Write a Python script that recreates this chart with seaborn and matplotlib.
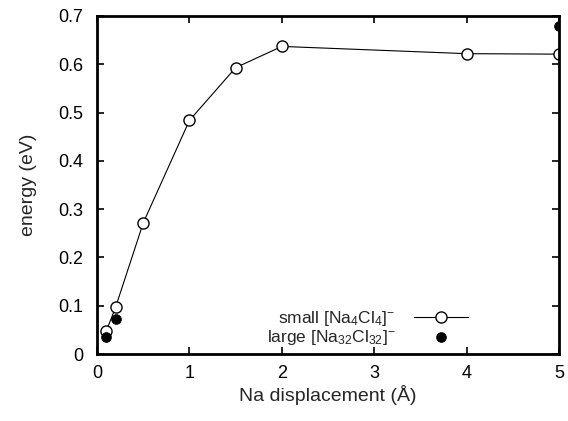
import matplotlib
matplotlib.use("Agg")
import matplotlib.pyplot as plt
import pandas as pd
import seaborn as sns

# small cluster [Na4Cl4]-
small_x = [0.1, 0.2, 0.5, 1.0, 1.5, 2.0, 4.0, 5.0]
small_e = [0.048, 0.097, 0.272, 0.484, 0.593, 0.637, 0.622, 0.621]

# large cluster [Na32Cl32]-
large_x = [0.1, 0.2, 5.0]
large_e = [0.035, 0.072, 0.680]

x_ticks = [0, 1, 2, 3, 4, 5]
y_ticks = [0, 0.1, 0.2, 0.3, 0.4, 0.5, 0.6, 0.7]
y_tick_labels = ['0', '0.1', '0.2', '0.3', '0.4', '0.5', '0.6', '0.7']

df_small = pd.DataFrame({'disp': small_x, 'energy': small_e})
df_large = pd.DataFrame({'disp': large_x, 'energy': large_e})

sns.set_theme(style='ticks')
plt.rcParams['font.family'] = ['Liberation Sans', 'DejaVu Sans']
plt.rcParams['mathtext.fontset'] = 'custom'
plt.rcParams['mathtext.rm'] = 'Liberation Sans'
plt.rcParams['mathtext.it'] = 'Liberation Sans'

fig = plt.figure(figsize=(5.68, 4.21), dpi=100)
ax = fig.add_axes([0.171, 0.159, 0.813, 0.803])

sns.lineplot(data=df_small, x='disp', y='energy', ax=ax, color='black', linewidth=0.8,
             marker='o', markersize=8, markerfacecolor='white', markeredgecolor='black',
             markeredgewidth=1.0, label=r'small $\mathregular{[Na_4Cl_4]^{-}}$')
sns.scatterplot(data=df_large, x='disp', y='energy', ax=ax, color='black', s=50,
                edgecolor='black', linewidth=0.5, label=r'large $\mathregular{[Na_{32}Cl_{32}]^{-}}$',
                zorder=3)

ax.set_xlim(0, 5)
ax.set_ylim(0, 0.7)
ax.set_xticks(x_ticks)
ax.set_yticks(y_ticks)
ax.set_xticklabels([str(t) for t in x_ticks])
ax.set_yticklabels(y_tick_labels)
ax.set_xlabel('Na displacement (Å)', fontsize=14, labelpad=2)
ax.set_ylabel('energy (eV)', fontsize=14, labelpad=15)
ax.tick_params(direction='in', top=True, right=True, length=5, width=1.2,
               labelsize=13, colors='black')
ax.tick_params(axis='x', pad=8)
ax.tick_params(axis='y', pad=10)
for s in ax.spines.values():
    s.set_linewidth(2.0)
    s.set_color('black')

ax.legend(loc='lower right', bbox_to_anchor=(0.83, -0.015), frameon=False,
          markerfirst=False, fontsize=12.5, handlelength=3.1, handletextpad=1.1,
          labelspacing=0.02, borderpad=0.2)

fig.savefig('out.png', dpi=100)
